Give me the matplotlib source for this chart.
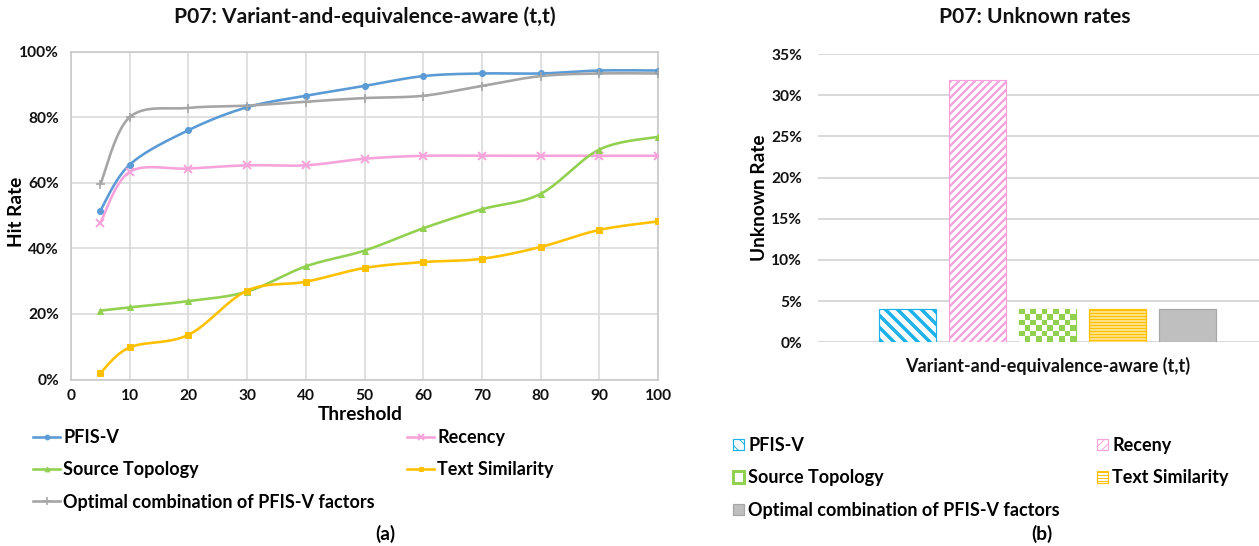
import numpy as np
import matplotlib
matplotlib.use("Agg")
import matplotlib.pyplot as plt
from matplotlib.colors import ListedColormap
from matplotlib.patches import Patch
from matplotlib.lines import Line2D

plt.rcParams['font.family'] = ['Lato', 'DejaVu Sans']
plt.rcParams['font.weight'] = 'bold'
plt.rcParams['axes.labelweight'] = 'bold'
plt.rcParams['axes.titleweight'] = 'bold'

# ---------------- data ----------------
thresholds = [5, 10, 20, 30, 40, 50, 60, 70, 80, 90, 100]
pfis_v = [0.515, 0.655, 0.760, 0.830, 0.865, 0.895, 0.925, 0.933, 0.933, 0.942, 0.942]
recency = [0.478, 0.633, 0.643, 0.653, 0.653, 0.673, 0.682, 0.682, 0.682, 0.682, 0.682]
source_topology = [0.210, 0.220, 0.239, 0.268, 0.345, 0.393, 0.461, 0.519, 0.566, 0.701, 0.740]
text_similarity = [0.020, 0.098, 0.136, 0.271, 0.298, 0.340, 0.358, 0.368, 0.404, 0.456, 0.482]
optimal = [0.595, 0.800, 0.828, 0.835, 0.847, 0.858, 0.865, 0.895, 0.925, 0.933, 0.933]

x_ticks = list(range(0, 101, 10))
hit_ticks = [0.0, 0.2, 0.4, 0.6, 0.8, 1.0]

bar_category = "Variant-and-equivalence-aware (t,t)"
bar_labels = ["PFIS-V", "Receny", "Source Topology", "Text Similarity",
              "Optimal combination of PFIS-V factors"]
unknown_rates = [0.04, 0.318, 0.04, 0.04, 0.04]
unknown_ticks = [0.0, 0.05, 0.10, 0.15, 0.20, 0.25, 0.30, 0.35]

BLUE = "#5B9BD5"
PINK = "#F6A3DC"
GREEN = "#92D050"
ORANGE = "#FFC000"
GRAY = "#A5A5A5"
CYAN = "#1DB1EA"
GRID = "#D9D9D9"
INK = "#111111"

W, H = 1259, 546
DPI = 72


def smooth(xs, ys, n=30):
    """Smoothed Bezier path through the points (Catmull-Rom style tangents)."""
    P = np.column_stack([xs, ys]).astype(float)
    out = [P[0]]
    t = np.linspace(0, 1, n)[1:, None]
    for i in range(len(P) - 1):
        p0 = P[i - 1] if i > 0 else P[i]
        p1, p2 = P[i], P[i + 1]
        p3 = P[i + 2] if i + 2 < len(P) else P[i + 1]
        c1 = p1 + (p2 - p0) / 6.0
        c2 = p2 - (p3 - p1) / 6.0
        seg = ((1 - t) ** 3) * p1 + 3 * ((1 - t) ** 2) * t * c1 \
            + 3 * (1 - t) * t ** 2 * c2 + t ** 3 * p2
        out.extend(seg)
    return np.array(out)


fig = plt.figure(figsize=(W / DPI, H / DPI), dpi=DPI)
fig.patch.set_facecolor("white")

# ---------------- (a) hit rate lines ----------------
ax1 = fig.add_axes([71 / W, 1 - 379.5 / H, 587 / W, 328 / H])
ax1.set_xlim(0, 100)
ax1.set_ylim(0, 1)
ax1.set_xticks(x_ticks)
ax1.set_yticks(hit_ticks)
ax1.set_yticklabels([f"{int(round(v * 100))}%" for v in hit_ticks])
ax1.grid(True, color=GRID, lw=1.6)
ax1.set_axisbelow(True)
for s in ax1.spines.values():
    s.set_color("#C8C8C8")
    s.set_linewidth(1.6)
ax1.tick_params(length=0, labelsize=15.5, colors=INK)
ax1.tick_params(axis="y", pad=12)
ax1.tick_params(axis="x", pad=9)

series = [
    ("PFIS-V", pfis_v, BLUE, "o", 6, 1),
    ("Recency", recency, PINK, "x", 8, 2.0),
    ("Source Topology", source_topology, GREEN, "^", 6, 1),
    ("Text Similarity", text_similarity, ORANGE, "s", 6, 1),
    ("Optimal combination of PFIS-V factors", optimal, GRAY, "+", 9, 1.6),
]
handles = []
for name, vals, col, mk, ms, mew in series:
    curve = smooth(thresholds, vals)
    ax1.plot(curve[:, 0], curve[:, 1], color=col, lw=2.6, solid_capstyle="round",
             zorder=3)
    ax1.plot(thresholds, vals, ls="none", marker=mk, ms=ms, mew=mew,
             color=col, mec=col, zorder=4)
    handles.append(Line2D([], [], color=col, lw=2.6, marker=mk, ms=ms * 0.8,
                          mew=mew, mec=col, label=name))

ax1.set_xlabel("Threshold", fontsize=19, va="center")
ax1.xaxis.set_label_coords((360 - 71) / 587, (379.5 - 414) / 328)
ax1.set_ylabel("Hit Rate", fontsize=19, va="center")
ax1.yaxis.set_label_coords((17 - 71) / 587, (379.5 - 212) / 328)

fig.text(365 / W, 1 - 17 / H, "P07: Variant-and-equivalence-aware (t,t)",
         ha="center", va="center", fontsize=21, color=INK)

leg_kw = dict(frameon=False, fontsize=18, handlelength=1.5, handletextpad=0.17,
              labelspacing=0.85, borderpad=0, borderaxespad=0, numpoints=1)
lg1 = fig.legend(handles=[handles[0], handles[2], handles[4]], loc="upper left",
                 bbox_to_anchor=(33 / W, 1 - 429 / H), **leg_kw)
lg2 = fig.legend(handles=[handles[1], handles[3]], loc="upper left",
                 bbox_to_anchor=(407 / W, 1 - 429 / H), **leg_kw)
fig.text(385 / W, 1 - 534 / H, "(a)", ha="center", va="center", fontsize=19)

# ---------------- (b) unknown rate bars ----------------
ax2 = fig.add_axes([818 / W, 1 - 342.3 / H, 441 / W, (342.3 - 54) / H])
spacing = 70.0
ax2.set_xlim((818 - 1047.5) / spacing, (1259 - 1047.5) / spacing)
ax2.set_ylim(0, 0.35)
ax2.set_yticks(unknown_ticks)
ax2.set_yticklabels([f"{int(round(v * 100))}%" for v in unknown_ticks])
ax2.set_xticks([0])
ax2.set_xticklabels([bar_category])
ax2.tick_params(length=0, labelsize=15.5, colors=INK)
ax2.tick_params(axis="x", labelsize=18, pad=15)
ax2.tick_params(axis="y", pad=16)
ax2.grid(True, axis="y", color=GRID, lw=2)
ax2.set_axisbelow(True)
for s in ax2.spines.values():
    s.set_visible(False)

offsets = np.arange(len(unknown_rates)) - (len(unknown_rates) - 1) / 2
width = 57 / spacing
styles = [
    dict(facecolor="white", edgecolor=CYAN, hatch="\\\\", hlw=3.5),
    dict(facecolor="white", edgecolor=PINK, hatch="///", hlw=2.4),
    dict(facecolor="white", edgecolor=GREEN, hatch=None, hlw=1.0),
    dict(facecolor="white", edgecolor=ORANGE, hatch="----", hlw=2.0),
    dict(facecolor="#BFBFBF", edgecolor="#A6A6A6", hatch=None, hlw=1.0),
]
bar_patches = []
for off, val, st, lab in zip(offsets, unknown_rates, styles, bar_labels):
    with plt.rc_context({"hatch.linewidth": st["hlw"]}):
        b = ax2.bar(off, val, width=width, facecolor=st["facecolor"],
                    edgecolor=st["edgecolor"], hatch=st["hatch"], lw=1.2)[0]
    if hasattr(b, "set_hatch_linewidth"):
        b.set_hatch_linewidth(st["hlw"])
    b.set_label(lab)
    bar_patches.append(b)

# checkerboard fill for the source-topology bar
cb = bar_patches[2]
x0, y0 = cb.get_x(), cb.get_y()
x1, y1 = x0 + cb.get_width(), y0 + cb.get_height()
p0 = ax2.transData.transform((x0, y0))
p1 = ax2.transData.transform((x1, y1))
ncol = max(1, int(round(abs(p1[0] - p0[0]) / 5.7)))
nrow = max(1, int(round(abs(p1[1] - p0[1]) / 5.5)))
checker = (np.add.outer(np.arange(nrow), np.arange(ncol)) % 2 == 0).astype(float)
im = ax2.imshow(checker, extent=(x0, x1, y0, y1), origin="upper", aspect="auto",
                cmap=ListedColormap(["white", GREEN]), interpolation="nearest",
                zorder=1.5)
im.set_clip_path(cb)
ax2.set_xlim((818 - 1047.5) / spacing, (1259 - 1047.5) / spacing)
ax2.set_ylim(0, 0.35)

ax2.set_ylabel("Unknown Rate", fontsize=19, va="center")
ax2.yaxis.set_label_coords((760 - 818) / 441, 0.5)

fig.text(1035 / W, 1 - 17 / H, "P07: Unknown rates", ha="center", va="center",
         fontsize=21, color=INK)

bar_handles = list(bar_patches)
bar_handles[2] = Patch(facecolor="white", edgecolor=GREEN, lw=3,
                       label=bar_labels[2])
bleg_kw = dict(frameon=False, fontsize=18, handlelength=0.6, handleheight=0.6,
               handletextpad=0.25, labelspacing=0.85, borderpad=0,
               borderaxespad=0)
lg3 = fig.legend(handles=[bar_handles[0], bar_handles[2], bar_handles[4]],
                 loc="upper left", bbox_to_anchor=(733 / W, 1 - 437 / H),
                 **bleg_kw)
lg4 = fig.legend(handles=[bar_handles[1], bar_handles[3]], loc="upper left",
                 bbox_to_anchor=(1097 / W, 1 - 437 / H), **bleg_kw)
fig.text(1042 / W, 1 - 534 / H, "(b)", ha="center", va="center", fontsize=19)

fig.savefig("out.png", dpi=DPI, facecolor="white")
